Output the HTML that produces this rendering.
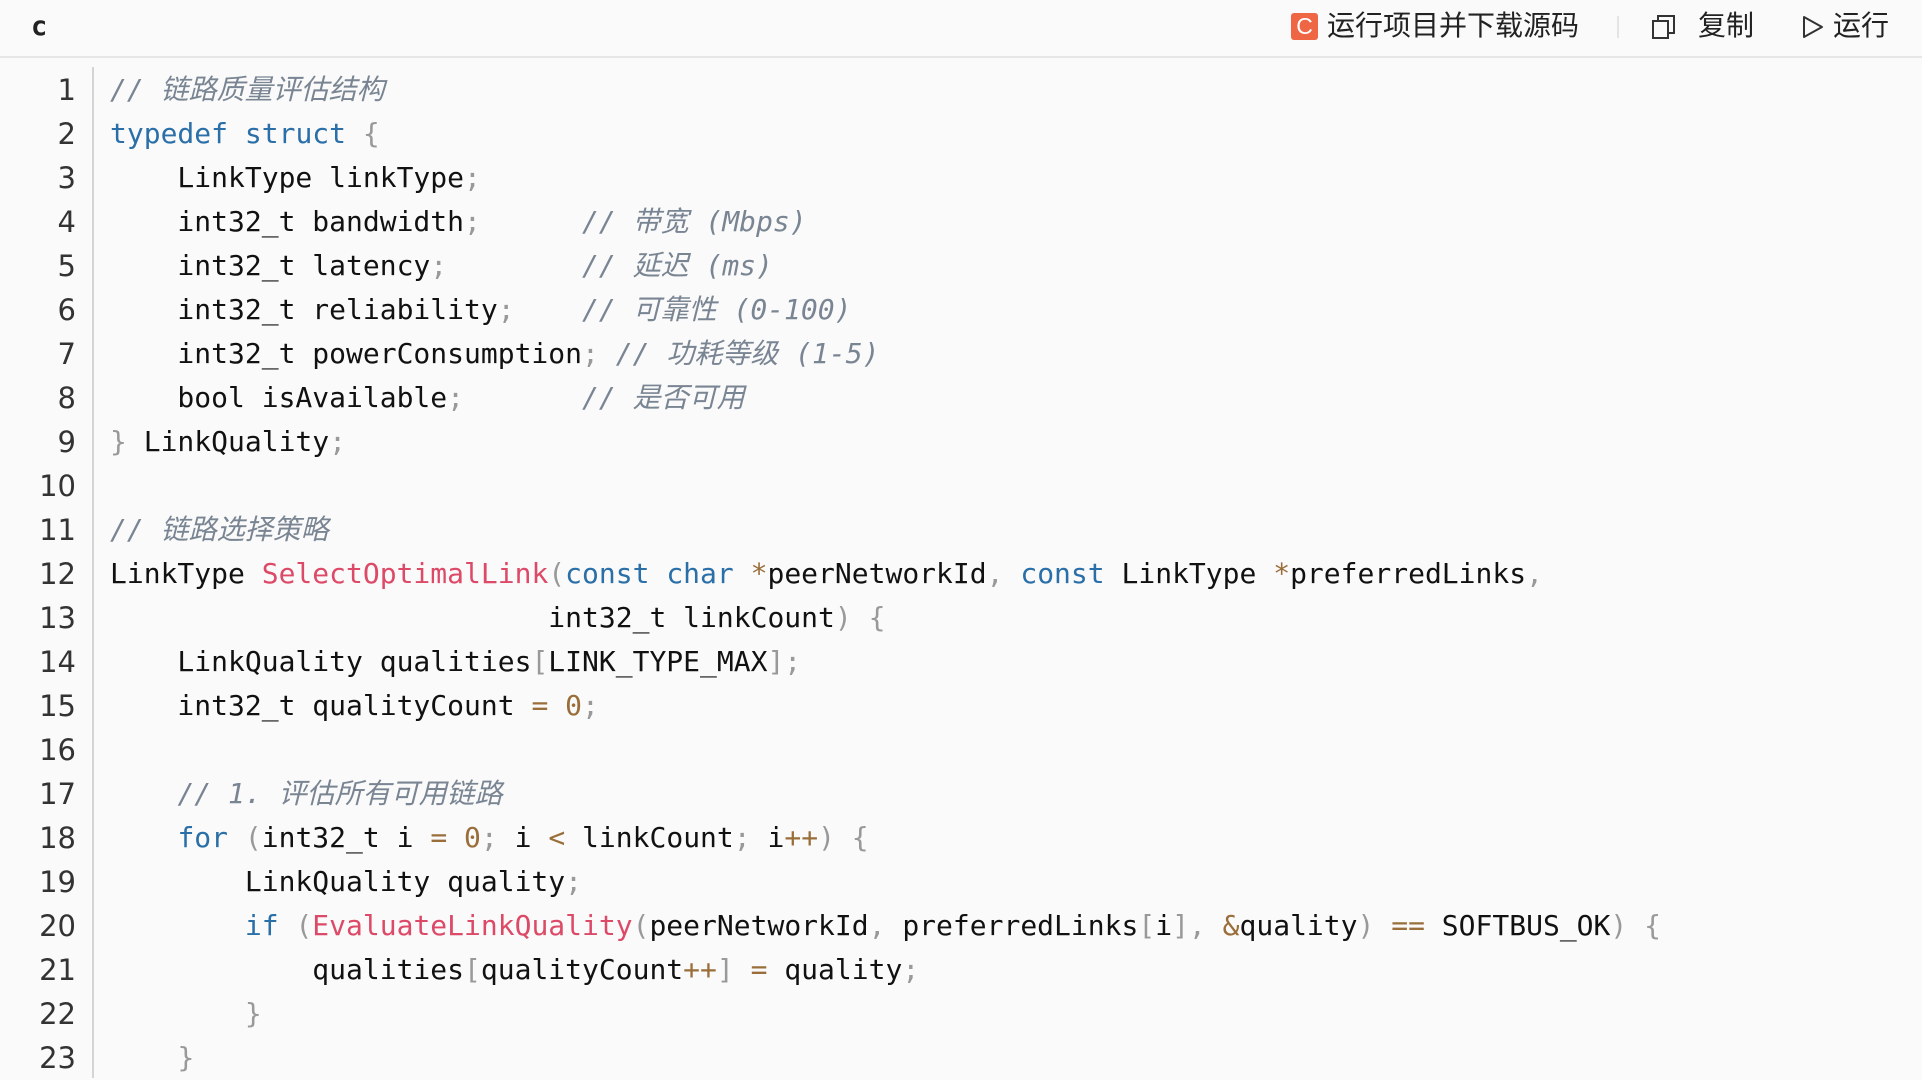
<!DOCTYPE html>
<html><head><meta charset="utf-8"><style>
html,body{margin:0;padding:0;width:1922px;height:1078px;overflow:hidden;background:#fafafa;}
.hdr{position:absolute;left:0;top:0;width:1922px;height:56px;border-bottom:2px solid #e6e6e6;background:#fafafa;font-family:"Liberation Sans","Noto Sans CJK SC",sans-serif;color:#222;}
.lang{position:absolute;left:31px;top:11px;font-size:27px;font-weight:bold;font-family:"DejaVu Sans Mono",monospace;}
.btn{position:absolute;top:7px;font-size:28px;line-height:38px;white-space:nowrap;}
.cic{position:absolute;left:1291px;top:13px;width:27px;height:27px;background:#ee6644;border-radius:3px;color:#fff;font-size:23px;line-height:27px;text-align:center;font-family:"Liberation Sans",sans-serif;}
.sep{position:absolute;left:1617px;top:16px;width:2px;height:22px;background:#e4e4e4;}
.gut{position:absolute;left:92px;top:67px;width:2px;height:1011px;background:#d4d4d4;}
.nums{position:absolute;left:0;top:68px;width:76px;text-align:right;font-family:"DejaVu Sans",sans-serif;font-size:29px;line-height:44px;color:#333;white-space:pre;}
.code{position:absolute;left:110px;top:68px;font-family:"DejaVu Sans Mono","Noto Sans CJK SC",monospace;font-size:28px;line-height:44px;color:#111;white-space:pre;}
.c{color:#7a8593;font-style:italic;}
.k{color:#2a6fa8;}
.f{color:#dd4a68;}
.o{color:#9a6e3a;}
.p{color:#999;}
</style></head><body>
<div class="hdr">
<div class="lang">c</div>
<div class="cic">C</div>
<div class="btn" style="left:1327px">运行项目并下载源码</div>
<div class="sep"></div>
<svg style="position:absolute;left:1651px;top:14px" width="26" height="26" viewBox="0 0 26 26"><rect x="2" y="7" width="15" height="17" fill="none" stroke="#333" stroke-width="2"/><path d="M7 7V2h16v17h-6" fill="none" stroke="#333" stroke-width="2"/></svg>
<div class="btn" style="left:1698px">复制</div>
<svg style="position:absolute;left:1801px;top:15px" width="24" height="24" viewBox="0 0 24 24"><path d="M3 2L21 12L3 22Z" fill="none" stroke="#333" stroke-width="2" stroke-linejoin="round"/></svg>
<div class="btn" style="left:1833px">运行</div>
</div>
<div class="gut"></div>
<div class="nums">1
2
3
4
5
6
7
8
9
10
11
12
13
14
15
16
17
18
19
20
21
22
23</div>
<div class="code"><span class="c">// 链路质量评估结构</span>
<span class="k">typedef</span> <span class="k">struct</span> <span class="p">{</span>
    LinkType linkType<span class="p">;</span>
    int32_t bandwidth<span class="p">;</span>      <span class="c">// 带宽 (Mbps)</span>
    int32_t latency<span class="p">;</span>        <span class="c">// 延迟 (ms)</span>
    int32_t reliability<span class="p">;</span>    <span class="c">// 可靠性 (0-100)</span>
    int32_t powerConsumption<span class="p">;</span> <span class="c">// 功耗等级 (1-5)</span>
    bool isAvailable<span class="p">;</span>       <span class="c">// 是否可用</span>
<span class="p">}</span> LinkQuality<span class="p">;</span>

<span class="c">// 链路选择策略</span>
LinkType <span class="f">SelectOptimalLink</span><span class="p">(</span><span class="k">const</span> <span class="k">char</span> <span class="o">*</span>peerNetworkId<span class="p">,</span> <span class="k">const</span> LinkType <span class="o">*</span>preferredLinks<span class="p">,</span>
                          int32_t linkCount<span class="p">)</span> <span class="p">{</span>
    LinkQuality qualities<span class="p">[</span>LINK_TYPE_MAX<span class="p">];</span>
    int32_t qualityCount <span class="o">=</span> <span class="o">0</span><span class="p">;</span>

    <span class="c">// 1. 评估所有可用链路</span>
    <span class="k">for</span> <span class="p">(</span>int32_t i <span class="o">=</span> <span class="o">0</span><span class="p">;</span> i <span class="o">&lt;</span> linkCount<span class="p">;</span> i<span class="o">++</span><span class="p">)</span> <span class="p">{</span>
        LinkQuality quality<span class="p">;</span>
        <span class="k">if</span> <span class="p">(</span><span class="f">EvaluateLinkQuality</span><span class="p">(</span>peerNetworkId<span class="p">,</span> preferredLinks<span class="p">[</span>i<span class="p">],</span> <span class="o">&amp;</span>quality<span class="p">)</span> <span class="o">==</span> SOFTBUS_OK<span class="p">)</span> <span class="p">{</span>
            qualities<span class="p">[</span>qualityCount<span class="o">++</span><span class="p">]</span> <span class="o">=</span> quality<span class="p">;</span>
        <span class="p">}</span>
    <span class="p">}</span></div>
</body></html>
